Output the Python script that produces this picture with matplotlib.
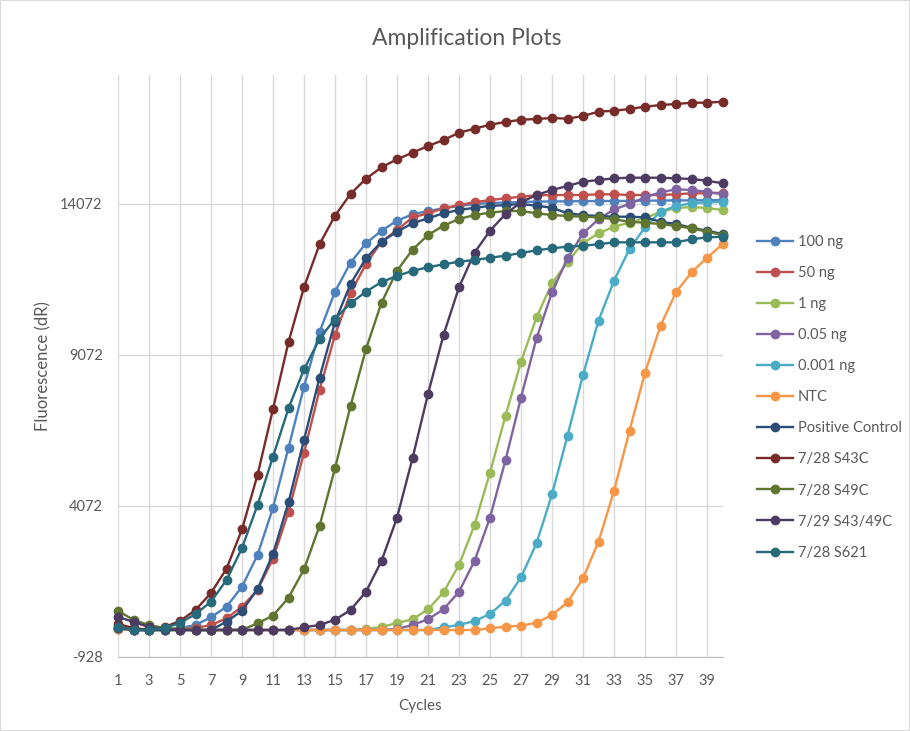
import matplotlib.pyplot as plt
from matplotlib.patches import Rectangle

plt.rcParams['font.family'] = ['Lato', 'DejaVu Sans']
plt.rcParams['axes.unicode_minus'] = False

cycles = list(range(1, 41))

ng100 = [32, -34, -34, -34, 32, 131, 386, 737, 1399, 2449, 4015, 6002, 8021, 9832,
         11167, 12127, 12769, 13186, 13518, 13729, 13839, 13928, 14004, 14071, 14104,
         14120, 14137, 14150, 14155, 14160, 14165, 14170, 14170, 14175, 14180, 14185,
         14190, 14190, 14195, 14200]
ng50 = [0, -34, -34, -34, 0, 32, 131, 353, 737, 1290, 2326, 3883, 5836, 7912,
        9734, 11124, 12084, 12822, 13210, 13624, 13763, 13928, 14037, 14127, 14203,
        14258, 14312, 14359, 14369, 14369, 14369, 14392, 14392, 14369, 14369, 14369,
        14392, 14425, 14425, 14445]
ng1 = [65, -34, -34, -34, -34, -34, -34, -34, -34, -34, -34, -34, -34, -34,
       -34, -34, 0, 65, 198, 320, 651, 1214, 2118, 3443, 5174,
       7061, 8849, 10319, 11445, 12150, 12779, 13100, 13319, 13451, 13607, 13806,
       13938, 13971, 13938, 13872]
ng005 = [32, -34, -34, -34, -34, -34, -34, -34, -34, -34, -34, -34, -34, -34,
         -34, -34, -34, -34, 0, 131, 320, 651, 1234, 2250, 3684,
         5594, 7657, 9624, 11147, 12273, 13100, 13564, 13895, 14071, 14292, 14458,
         14557, 14534, 14478, 14392]
ng0001 = [0, -34, -34, -34, -34, -34, -34, -34, -34, -34, -34, -34, -34, -34,
          -34, -34, -34, -34, -34, -34, -34, 55, 131, 264, 495,
          936, 1710, 2836, 4458, 6399, 8409, 10207, 11531, 12581, 13299, 13816,
          14004, 14094, 14127, 14147]
ntc = [0, -34, -34, -34, -34, -34, -34, -34, -34, -34, -34, -34, -34, -34,
       -34, -34, -34, -34, -34, -34, -34, -34, -34, -34, 23,
       76, 109, 208, 462, 883, 1677, 2890, 4568, 6565, 8485, 10041,
       11147, 11809, 12292, 12736]
pos_ctrl = [32, -34, -34, -34, -34, -34, -34, 241, 605, 1313, 2482, 4193, 6257, 8319,
            10164, 11422, 12273, 12822, 13154, 13432, 13597, 13763, 13872, 13948, 14004,
            14037, 14071, 14014, 13948, 13763, 13706, 13673, 13650, 13650, 13630, 13484,
            13408, 13286, 13186, 13077]
s43c = [164, 32, -30, 65, 264, 628, 1191, 1995, 3300, 5098, 7283, 9501, 11313, 12736,
        13683, 14402, 14908, 15286, 15551, 15769, 15991, 16190, 16431, 16564, 16696,
        16786, 16862, 16885, 16918, 16895, 16984, 17127, 17160, 17216, 17292, 17348,
        17381, 17425, 17425, 17458]
s49c = [605, 297, 131, 32, 0, -34, -34, -34, -34, 188, 440, 1035, 1975, 3409,
        5319, 7382, 9270, 10803, 11862, 12558, 13044, 13352, 13574, 13706, 13783,
        13839, 13839, 13763, 13706, 13673, 13650, 13630, 13564, 13484, 13451, 13408,
        13342, 13266, 13154, 13044]
s4349c = [405, 230, 65, 0, -34, -34, -34, -34, -34, -34, -34, -34, 55, 131,
          303, 628, 1234, 2250, 3684, 5650, 7780, 9733, 11313, 12458, 13187,
          13739, 14127, 14369, 14534, 14667, 14809, 14865, 14921, 14941, 14941, 14941,
          14921, 14898, 14842, 14756]
s621 = [75, -34, -34, 32, 198, 495, 903, 1621, 2681, 4104, 5704, 7306, 8597, 9601,
        10273, 10783, 11167, 11488, 11687, 11859, 11975, 12074, 12160, 12216, 12292,
        12359, 12448, 12538, 12604, 12657, 12690, 12736, 12802, 12802, 12802, 12802,
        12802, 12902, 12968, 12988]

labels = ['100 ng', '50 ng', '1 ng', '0.05 ng', '0.001 ng', 'NTC', 'Positive Control',
          '7/28 S43C', '7/28 S49C', '7/29 S43/49C', '7/28 S621']
series = [ng100, ng50, ng1, ng005, ng0001, ntc, pos_ctrl, s43c, s49c, s4349c, s621]
colors = ['#4F81BD', '#C0504D', '#9BBB59', '#8064A2', '#4BACC6', '#F79646',
          '#2C4D75', '#772C2A', '#5F7530', '#4D3B62', '#276A7C']

text_col = '#595959'
grid_col = '#D9D9D9'

fig = plt.figure(figsize=(9.1, 7.31), dpi=100)
ax = fig.add_axes([118 / 910, 1 - 657 / 731, (722.5 - 118) / 910, (657 - 75) / 731])

for vals, lab, col in zip(series, labels, colors):
    ax.plot(cycles, vals, color=col, lw=1.7, marker='o', ms=6, label=lab, clip_on=False)

ax.set_xlim(1, 40)
ax.set_ylim(-928, 18342)
ax.set_xticks(range(1, 40, 2))
ax.set_yticks([-928, 4072, 9072, 14072])
ax.grid(True, color=grid_col, lw=1.0)
ax.set_axisbelow(True)
for s in ['top', 'right', 'left']:
    ax.spines[s].set_visible(False)
ax.spines['bottom'].set_color('#BFBFBF')
ax.tick_params(length=0, labelsize=10.5, labelcolor=text_col)
ax.tick_params(axis='x', pad=12)
ax.tick_params(axis='y', pad=11)

ax.set_xlabel('Cycles', fontsize=11, color=text_col, labelpad=8)
ax.set_ylabel('Fluorescence (dR)', fontsize=12, color=text_col, labelpad=6)
fig.text(0.513, 0.948, 'Amplification Plots', ha='center', va='center',
         fontsize=16.5, color=text_col)

leg = fig.legend(loc='upper left', bbox_to_anchor=(757 / 910, 1 - 235 / 731),
                 frameon=False, fontsize=10.5, handlelength=2.5, handletextpad=0.3,
                 labelspacing=1.17, borderpad=0, borderaxespad=0)
for t in leg.get_texts():
    t.set_color(text_col)

fig.patches.append(Rectangle((0, 0), 1, 1, transform=fig.transFigure, fill=False,
                             edgecolor=grid_col, lw=1.5))

fig.savefig('out.png', dpi=100)
